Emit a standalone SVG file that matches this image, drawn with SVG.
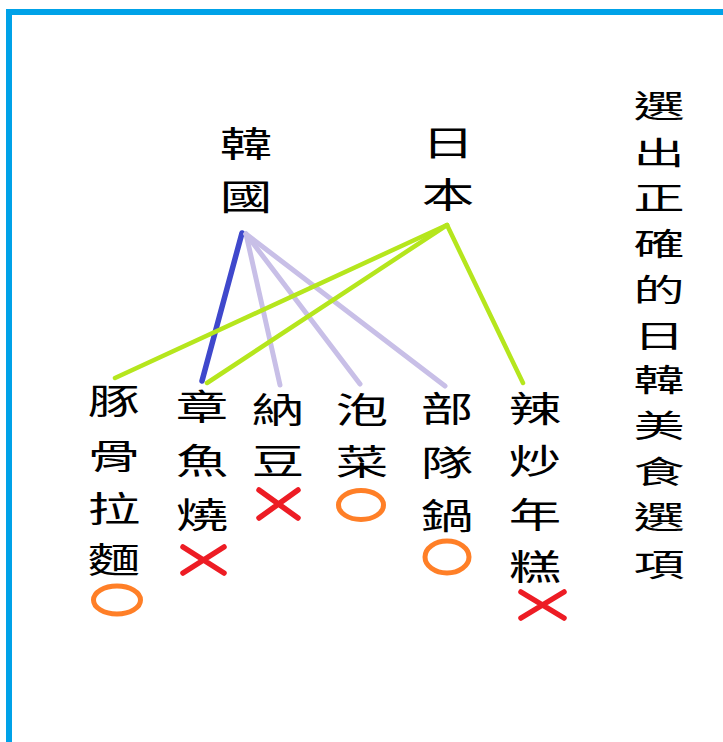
<svg xmlns="http://www.w3.org/2000/svg" width="723" height="742" viewBox="0 0 723 742">
<style>
.t{font-family:"Noto Sans CJK TC","Noto Sans CJK SC",sans-serif;font-size:35px;fill:#000;text-anchor:middle}
.tt{font-size:31px}
.ln{fill:none;stroke-linecap:round}
.k{stroke:#c8bfe7;stroke-width:5}
.kb{stroke:#3f48cc;stroke-width:5.5}
.j{stroke:#b5e61d;stroke-width:4.5}
.o{fill:none;stroke:#ff7f27;stroke-width:5}
.x{stroke:#ed1c24;stroke-width:5.5;stroke-linecap:round}
</style>
<rect width="723" height="742" fill="#fff"/>
<path d="M9,742 V12 H723" fill="none" stroke="#00a2e8" stroke-width="6"/>
<g id="connectors">
<line class="ln kb" x1="242" y1="233" x2="202" y2="381"/>
<line class="ln k" x1="246" y1="234" x2="280" y2="385"/>
<line class="ln k" x1="246" y1="234" x2="360" y2="384"/>
<line class="ln k" x1="246" y1="234" x2="445" y2="386"/>
<line class="ln j" x1="447" y1="225" x2="115" y2="378"/>
<line class="ln j" x1="447" y1="225" x2="207" y2="383"/>
<line class="ln j" x1="447" y1="225" x2="523" y2="383"/>
</g>
<g id="korea" transform="translate(246,0) scale(1.5,1)"><text class="t"><tspan x="0" y="157">韓</tspan><tspan x="0" y="210">國</tspan></text></g>
<g id="japan" transform="translate(448,0) scale(1.5,1)"><text class="t"><tspan x="0" y="156">日</tspan><tspan x="0" y="208">本</tspan></text></g>
<g id="title" transform="translate(659,0) scale(1.65,1)"><text class="t tt"><tspan x="0" y="117">選</tspan><tspan x="0" y="164">出</tspan><tspan x="0" y="209">正</tspan><tspan x="0" y="255">確</tspan><tspan x="0" y="301">的</tspan><tspan x="0" y="347">日</tspan><tspan x="0" y="391">韓</tspan><tspan x="0" y="437">美</tspan><tspan x="0" y="483">食</tspan><tspan x="0" y="528">選</tspan><tspan x="0" y="576">項</tspan></text></g>
<g id="tonkotsu">
<g transform="translate(114,0) scale(1.5,1)"><text class="t"><tspan x="0" y="414">豚</tspan><tspan x="0" y="469">骨</tspan><tspan x="0" y="522">拉</tspan><tspan x="0" y="573">麵</tspan></text></g>
<ellipse class="o" cx="117" cy="600" rx="23.5" ry="14"/>
</g>
<g id="takoyaki">
<g transform="translate(202,0) scale(1.5,1)"><text class="t"><tspan x="0" y="420">章</tspan><tspan x="0" y="474">魚</tspan><tspan x="0" y="528">燒</tspan></text></g>
<path class="x" d="M183,547 L224,573 M183,573 L224,547"/>
</g>
<g id="natto">
<g transform="translate(278,0) scale(1.5,1)"><text class="t"><tspan x="0" y="423">納</tspan><tspan x="0" y="474">豆</tspan></text></g>
<path class="x" d="M259,490 L298,518 M259,518 L298,490"/>
</g>
<g id="kimchi">
<g transform="translate(362,0) scale(1.5,1)"><text class="t"><tspan x="0" y="423">泡</tspan><tspan x="0" y="475">菜</tspan></text></g>
<ellipse class="o" cx="361" cy="505" rx="22.5" ry="14.5"/>
</g>
<g id="budaejjigae">
<g transform="translate(447,0) scale(1.5,1)"><text class="t"><tspan x="0" y="422">部</tspan><tspan x="0" y="476">隊</tspan><tspan x="0" y="529">鍋</tspan></text></g>
<ellipse class="o" cx="447" cy="557" rx="22" ry="16"/>
</g>
<g id="tteokbokki">
<g transform="translate(535,0) scale(1.5,1)"><text class="t"><tspan x="0" y="422">辣</tspan><tspan x="0" y="474">炒</tspan><tspan x="0" y="528">年</tspan><tspan x="0" y="580">糕</tspan></text></g>
<path class="x" d="M521,592 L564,618 M521,618 L564,592"/>
</g>
</svg>
